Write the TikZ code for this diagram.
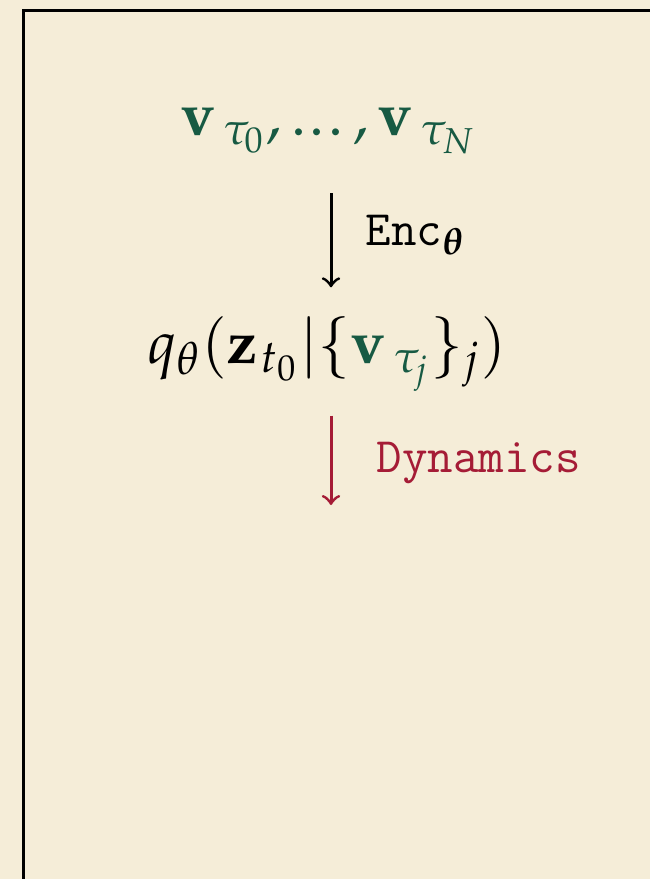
\documentclass[tikz,border=0pt]{standalone}
\usepackage{amsmath, amssymb}
\usepackage{mathpazo}
\usepackage[rgb]{xcolor}
\usepackage{tikz}
\usetikzlibrary{positioning, calc}
\definecolor{slidebg}{RGB}{245,237,216}
\definecolor{obsgreen}{RGB}{23,90,67}
\definecolor{dynred}{RGB}{165,28,54}
\newcommand{\obs}[1]{\mathbf{v}_{\mkern3mu#1}}
\tikzset{>=to}
\tikzset{flow/.style={->, line width=0.75pt}}
\tikzset{mathbig/.style={font=\fontsize{15}{18}\selectfont, inner sep=0pt}}
\tikzset{ttlabel/.style={font=\fontsize{12.4}{14}\selectfont\ttfamily, inner sep=0pt}}

\begin{document}
\begin{tikzpicture}[x=0.25pt, y=-0.25pt]
  \useasboundingbox (0,0) rectangle (650,879);
  \clip (0,0) rectangle (650,879);
  \fill[slidebg] (0,0) rectangle (650,879); %
  \draw[line width=0.75pt] (23.5,900) |- (700,10); %
  \node[mathbig, anchor=base] (vlist) at (329,135) {$\color{obsgreen}\obs{\tau_0},\mathinner{.\mkern1mu.\mkern1mu.},\obs{\tau_N}$}; %
  \node[mathbig, anchor=base] (qpost) at (327,363) {$q_\theta(\mathbf{z}_{\mkern1mu t_0}|\{{\color{obsgreen}\obs{\tau_j}}\}_j)$}; %
  \coordinate (zend) at (331,505); %
  \draw[flow, shorten <=9.75pt, shorten >=7pt] (vlist.south -| zend) -- node[right, ttlabel, xshift=8.25pt]{Enc$_{\boldsymbol{\theta}}$} (qpost.north -| zend); %
  \draw[flow, dynred, shorten <=5.75pt] (qpost.south -| zend) -- node[right, ttlabel, xshift=11pt, yshift=-3.5pt]{Dynamics} (zend); %
\end{tikzpicture}
\end{document}
